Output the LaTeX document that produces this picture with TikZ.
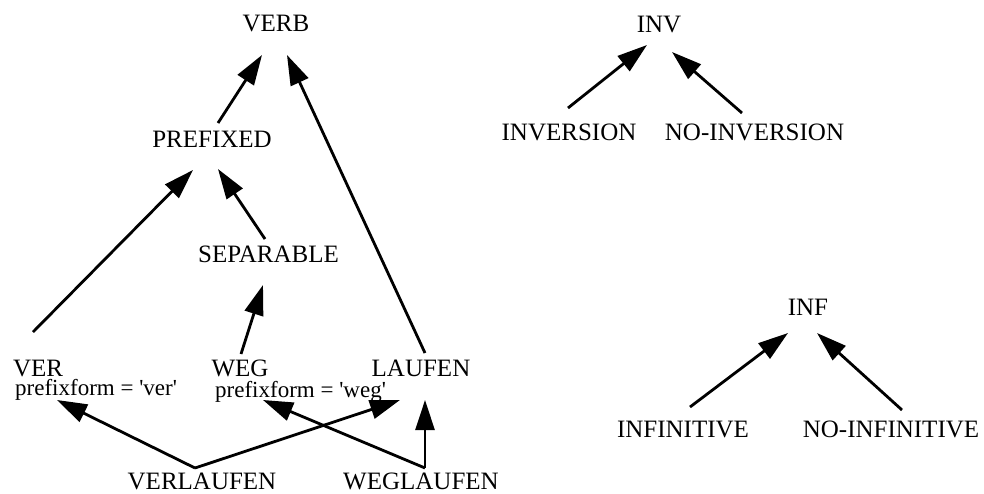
\documentclass[tikz,border=0pt]{standalone}
\usepackage{fontspec}
\setmainfont{Liberation Serif}
\usetikzlibrary{arrows.meta}
\tikzset{
  cls/.style={inner sep=0pt, anchor=base, font=\fontsize{25}{30}\selectfont},
  attr/.style={inner sep=0pt, anchor=base west, font=\fontsize{23}{27}\selectfont},
  isa/.style={line width=2.8pt, -{Triangle[length=30pt,width=19pt]}}
}
\begin{document}
\begin{tikzpicture}[x=1pt,y=-1pt]
\useasboundingbox (0,0) rectangle (984,493);
% verb hierarchy
\node[cls] (verb) at (276,31) {VERB};
\node[cls] (prefixed) at (212,147) {PREFIXED};
\node[cls] (separable) at (268.5,262) {SEPARABLE};
\node[cls] (ver) at (38,376) {VER};
\node[attr] (verattr) at (15,395) {prefixform = \textquotesingle ver\textquotesingle};
\node[cls] (weg) at (240,376) {WEG};
\node[attr] (wegattr) at (215,397) {prefixform = \textquotesingle weg\textquotesingle};
\node[cls] (laufen) at (421,376) {LAUFEN};
\node[cls] (verlaufen) at (202,489) {VERLAUFEN};
\node[cls] (weglaufen) at (421,489) {WEGLAUFEN};
% inversion and infinitive
\node[cls] (inv) at (659,32) {INV};
\node[cls] (inversion) at (569,140) {INVERSION};
\node[cls] (noinversion) at (754.5,140) {NO-INVERSION};
\node[cls] (inf) at (808,315) {INF};
\node[cls] (infinitive) at (683,437) {INFINITIVE};
\node[cls] (noinfinitive) at (891,437) {NO-INFINITIVE};

\draw[isa] ([xshift=6pt,yshift=24pt]prefixed.base) -- ([xshift=-14pt,yshift=-24pt]verb.base);
\draw[isa] ([xshift=4pt,yshift=23pt]laufen.base) -- ([xshift=11pt,yshift=-24pt]verb.base);
\draw[isa] ([xshift=-3.5pt,yshift=23pt]separable.base) -- ([xshift=6pt,yshift=-22pt]prefixed.base);
\draw[isa] ([xshift=-5pt,yshift=44pt]ver.base) -- ([xshift=-19pt,yshift=-23pt]prefixed.base);
\draw[isa] ([xshift=1pt,yshift=22pt]weg.base) -- ([xshift=-5.5pt,yshift=-23pt]separable.base);
\draw[isa] ([xshift=-7pt,yshift=21pt]verlaufen.base) -- ([xshift=42pt,yshift=-5pt]verattr.base west);
\draw[isa] ([xshift=-7pt,yshift=21pt]verlaufen.base) -- ([xshift=-21pt,yshift=-24pt]laufen.base);
\draw[isa] ([xshift=4pt,yshift=21pt]weglaufen.base) -- ([xshift=48pt,yshift=-3pt]wegattr.base west);
\draw[isa] ([xshift=4pt,yshift=21pt]weglaufen.base) -- ([xshift=4pt,yshift=-24pt]laufen.base);
\draw[isa] ([xshift=-1pt,yshift=32pt]inversion.base) -- ([xshift=-12pt,yshift=-13pt]inv.base);
\draw[isa] ([xshift=-12.5pt,yshift=27pt]noinversion.base) -- ([xshift=13pt,yshift=-20pt]inv.base);
\draw[isa] ([xshift=7pt,yshift=30pt]infinitive.base) -- ([xshift=-20pt,yshift=-18pt]inf.base);
\draw[isa] ([xshift=11pt,yshift=27pt]noinfinitive.base) -- ([xshift=9pt,yshift=-18pt]inf.base);
\end{tikzpicture}
\end{document}
